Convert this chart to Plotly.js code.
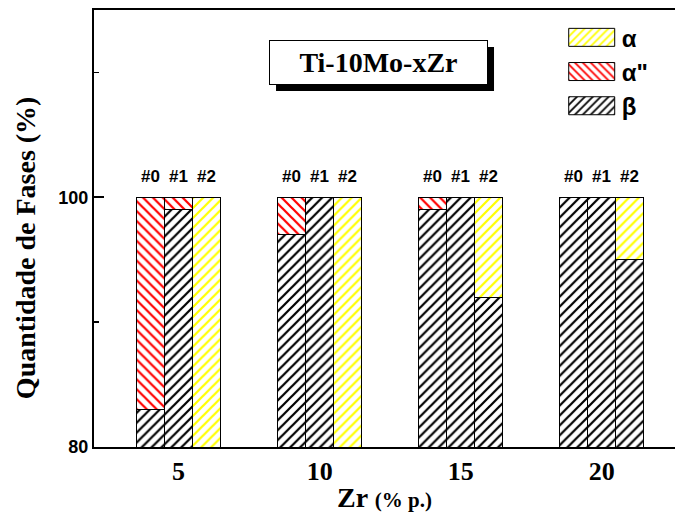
<!DOCTYPE html>
<html>
<head>
<meta charset="utf-8">
<script src="https://cdn.plot.ly/plotly-3.0.1.min.js"></script>
<style>html,body{margin:0;padding:0;background:#fff;}#chart{width:675px;height:513px;}</style>
</head>
<body>
<div id="chart"></div>
<script>
// Data
const zrContent = [5, 10, 15, 20];
const sampleLabels = ['#0', '#1', '#2'];
const sampleOffsets = [-1, 0, 1];
// phase amounts (%) per Zr content, for samples #0, #1, #2
const betaPhase = [[83, 99, 0], [97, 100, 0], [99, 100, 92], [100, 100, 95]];
const alphaDoublePrimePhase = [[17, 1, 0], [3, 0, 0], [1, 0, 0], [0, 0, 0]];
const alphaPhase = [[0, 0, 100], [0, 0, 100], [0, 0, 8], [0, 0, 5]];
const phaseNames = ['β', 'α"', 'α'];
const labelLevel = 101.7;

const xs = [], bet = [], adp = [], alp = [], labTxt = [];
zrContent.forEach((z, i) => {
  sampleOffsets.forEach((o, j) => {
    xs.push(z + o);
    bet.push(betaPhase[i][j]);
    adp.push(alphaDoublePrimePhase[i][j]);
    alp.push(alphaPhase[i][j]);
    labTxt.push(sampleLabels[j]);
  });
});

function barTrace(name, y, fg, shape) {
  return {
    type: 'bar', name: name, x: xs, y: y, width: 1,
    marker: {
      color: 'white',
      line: {color: 'black', width: 1},
      pattern: {shape: shape, fgcolor: fg, bgcolor: 'white', size: 7, solidity: 0.32}
    },
    hoverinfo: 'x+y'
  };
}

const traces = [
  barTrace(phaseNames[0], bet, 'black', '/'),
  barTrace(phaseNames[1], adp, '#ff0000', '\\'),
  barTrace(phaseNames[2], alp, '#ffff00', '/')
];

const annotations = xs.map((x, k) => ({
  x: x, y: labelLevel, xref: 'x', yref: 'y', text: labTxt[k], showarrow: false,
  font: {family: 'Arial, Liberation Sans, sans-serif', size: 17, color: 'black', weight: 'bold'},
  yanchor: 'middle'
}));
annotations.push({
  xref: 'paper', yref: 'paper', x: 0.4905, y: 0.881, showarrow: false,
  text: '<b>Ti-10Mo-xZr</b>',
  font: {family: 'Liberation Serif, Times New Roman, serif', size: 28, color: 'black'},
  bgcolor: 'white', bordercolor: 'black', borderwidth: 1, borderpad: 1,
  width: 215, height: 41, xanchor: 'center', yanchor: 'middle'
});
annotations.push({
  xref: 'paper', yref: 'paper', x: -0.119, y: 0.457, showarrow: false,
  text: '<b>Quantidade de Fases (%)</b>', textangle: -90,
  font: {family: 'Liberation Serif, Times New Roman, serif', size: 28, color: 'black'},
  xanchor: 'center', yanchor: 'middle'
});

const layout = {
  width: 675, height: 513,
  margin: {l: 94, r: 0, t: 10, b: 66},
  paper_bgcolor: 'white', plot_bgcolor: 'white',
  barmode: 'stack',
  showlegend: true,
  legend: {
    x: 0.805, y: 0.988, xanchor: 'left', yanchor: 'top',
    traceorder: 'reversed', itemwidth: 50,
    font: {family: 'Arial, Liberation Sans, sans-serif', size: 24, color: 'black', weight: 'bold'},
    bgcolor: 'rgba(0,0,0,0)'
  },
  xaxis: {
    range: [2.0, 22.6], tickvals: zrContent, ticktext: zrContent.map(String),
    ticks: '', showline: true, linewidth: 2, linecolor: 'black', mirror: true,
    showgrid: false, zeroline: false,
    tickfont: {family: 'Liberation Serif, Times New Roman, serif', size: 26, color: 'black', weight: 'bold'},
    title: {text: '<b>Zr <span style="font-size:21px">(% p.)</span></b>', standoff: 5,
      font: {family: 'Liberation Serif, Times New Roman, serif', size: 28, color: 'black'}}
  },
  yaxis: {
    range: [80, 115], tickvals: [80, 100], ticktext: ['80', '100'],
    ticks: 'inside', ticklen: 10, tickwidth: 2, tickcolor: 'black',
    minor: {tickvals: [90, 110], ticks: 'inside', ticklen: 5, tickwidth: 1.5, tickcolor: 'black'},
    showline: true, linewidth: 2, linecolor: 'black', mirror: false,
    showgrid: false, zeroline: false,
    tickfont: {family: 'Arial, Liberation Sans, sans-serif', size: 18, color: 'black', weight: 'bold'}
  },
  shapes: [{
    type: 'rect', xref: 'paper', yref: 'paper',
    x0: 0.3133, x1: 0.6885, y0: 0.8146, y1: 0.9153,
    fillcolor: 'black', line: {width: 0}, layer: 'above'
  }],
  annotations: annotations
};

Plotly.newPlot('chart', traces, layout, {displayModeBar: false, staticPlot: true}).then(gd => {
  // enlarge legend swatches to rectangles like the reference
  gd.querySelectorAll('.legend .legendpoints path').forEach(p => {
    p.setAttribute('d', 'M23,9H-23V-9H23Z');
  });
});
</script>
</body>
</html>
